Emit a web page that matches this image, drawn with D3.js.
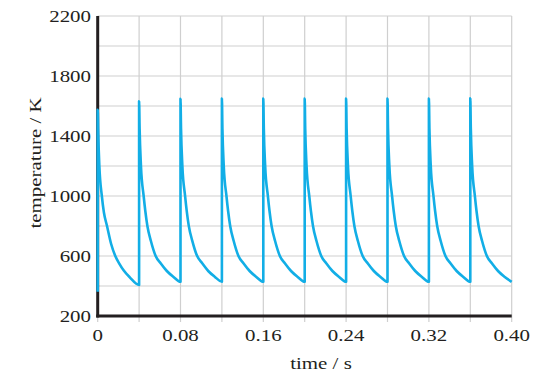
<!DOCTYPE html>
<html>
<head>
<meta charset="utf-8">
<script src="https://cdn.jsdelivr.net/npm/d3@7"></script>
<style>
  html, body { margin: 0; padding: 0; background: #fff; }
  svg { display: block; }
  text { font-family: "Liberation Serif", "Times New Roman", serif; fill: #231f20; }
</style>
</head>
<body>
<svg id="chart" width="552" height="384"></svg>
<script>
// time (s) and temperature (K), one line per pulse
var timeS = [
  0, 0, 0.0005, 0.0016, 0.004, 0.006, 0.009, 0.013, 0.017, 0.021, 0.025, 0.031, 0.04,
  0.04, 0.0405, 0.0418, 0.0444, 0.046, 0.048, 0.0514, 0.056, 0.061, 0.0668, 0.073, 0.08,
  0.08, 0.0805, 0.0818, 0.0844, 0.086, 0.088, 0.0914, 0.096, 0.101, 0.1068, 0.113, 0.12,
  0.12, 0.1205, 0.1218, 0.1244, 0.126, 0.128, 0.1314, 0.136, 0.141, 0.1468, 0.153, 0.16,
  0.16, 0.1605, 0.1618, 0.1644, 0.166, 0.168, 0.1714, 0.176, 0.181, 0.1868, 0.193, 0.20,
  0.20, 0.2005, 0.2018, 0.2044, 0.206, 0.208, 0.2114, 0.216, 0.221, 0.2268, 0.233, 0.24,
  0.24, 0.2405, 0.2418, 0.2444, 0.246, 0.248, 0.2514, 0.256, 0.261, 0.2668, 0.273, 0.28,
  0.28, 0.2805, 0.2818, 0.2844, 0.286, 0.288, 0.2914, 0.296, 0.301, 0.3068, 0.313, 0.32,
  0.32, 0.3205, 0.3218, 0.3244, 0.326, 0.328, 0.3314, 0.336, 0.341, 0.3468, 0.353, 0.36,
  0.36, 0.3605, 0.3618, 0.3644, 0.366, 0.368, 0.3714, 0.376, 0.381, 0.3868, 0.393, 0.40
];
var tempK = [
  362, 1575, 1420, 1200, 1000, 890, 800, 680, 600, 548, 505, 458, 407,
  1632, 1450, 1200, 1000, 900, 800, 700, 600, 550, 500, 462, 428,
  1648, 1452, 1202, 1002, 901, 801, 701, 601, 551, 500, 462, 429,
  1650, 1450, 1200, 1000, 900, 800, 700, 600, 550, 500, 462, 428,
  1650, 1451, 1201, 1001, 900, 800, 700, 600, 550, 500, 462, 428,
  1649, 1450, 1200, 1000, 900, 800, 700, 600, 550, 500, 462, 428,
  1650, 1451, 1201, 1001, 900, 800, 700, 600, 550, 500, 462, 428,
  1650, 1451, 1201, 1001, 900, 800, 700, 600, 550, 500, 462, 428,
  1650, 1451, 1201, 1001, 900, 800, 700, 600, 550, 500, 462, 428,
  1651, 1451, 1201, 1001, 900, 800, 700, 600, 550, 500, 462, 428
];
var xTicks = [0, 0.08, 0.16, 0.24, 0.32, 0.40];
var xGrid = [0, 0.04, 0.08, 0.12, 0.16, 0.20, 0.24, 0.28, 0.32, 0.36, 0.40];
var yTicks = [200, 600, 1000, 1400, 1800, 2200];
var yGrid = [200, 400, 600, 800, 1000, 1200, 1400, 1600, 1800, 2000, 2200];

var svg = d3.select("#chart");
var plotL = 97.7, plotR = 511.7, plotT = 16, plotB = 316;
var stretch = 1.23;

var x = d3.scaleLinear().domain([0, 0.40]).range([plotL, plotR]);
var y = d3.scaleLinear().domain([200, 2200]).range([plotB, plotT]);

// grid, light grey; vertical lines poke below the axis as ticks
svg.append("g").selectAll("line")
  .data(xGrid).enter().append("line")
  .attr("x1", function(d) { return x(d); })
  .attr("x2", function(d) { return x(d); })
  .attr("y1", plotT)
  .attr("y2", plotB + 6)
  .attr("stroke", "#cfcfcf")
  .attr("stroke-width", 1.2);

svg.append("g").selectAll("line")
  .data(yGrid).enter().append("line")
  .attr("x1", plotL)
  .attr("x2", plotR)
  .attr("y1", function(d) { return y(d); })
  .attr("y2", function(d) { return y(d); })
  .attr("stroke", "#cfcfcf")
  .attr("stroke-width", 1.2);

// axes lines
svg.append("line")
  .attr("x1", plotL).attr("x2", plotL)
  .attr("y1", plotT).attr("y2", plotB + 1.5)
  .attr("stroke", "#231f20").attr("stroke-width", 3);
svg.append("line")
  .attr("x1", plotL - 1.5).attr("x2", plotR)
  .attr("y1", plotB).attr("y2", plotB)
  .attr("stroke", "#231f20").attr("stroke-width", 3);

// temperature trace
var pts = timeS.map(function(t, i) { return [t, tempK[i]]; });
var line = d3.line()
  .x(function(d) { return x(d[0]); })
  .y(function(d) { return y(d[1]); })
  .curve(d3.curveMonotoneX);

svg.append("path")
  .datum(pts)
  .attr("d", line)
  .attr("fill", "none")
  .attr("stroke", "#12aee6")
  .attr("stroke-width", 2.6)
  .attr("stroke-linejoin", "round");

// tick labels, wide serif look
svg.append("g").selectAll("text")
  .data(xTicks).enter().append("text")
  .attr("transform", function(d) { return "translate(" + x(d) + ",341) scale(" + stretch + ",1)"; })
  .attr("text-anchor", "middle")
  .attr("font-size", 17)
  .text(function(d) { return d === 0 ? "0" : d.toFixed(2); });

svg.append("g").selectAll("text")
  .data(yTicks).enter().append("text")
  .attr("transform", function(d) { return "translate(91," + (y(d) + 5.8) + ") scale(" + stretch + ",1)"; })
  .attr("text-anchor", "end")
  .attr("font-size", 17)
  .text(function(d) { return d; });

// axis titles
svg.append("text")
  .attr("transform", "translate(321,369) scale(" + stretch + ",1)")
  .attr("text-anchor", "middle")
  .attr("font-size", 17)
  .text("time / s");

svg.append("text")
  .attr("transform", "translate(41,163) rotate(-90) scale(" + stretch + ",1)")
  .attr("text-anchor", "middle")
  .attr("font-size", 17)
  .text("temperature / K");
</script>
</body>
</html>
